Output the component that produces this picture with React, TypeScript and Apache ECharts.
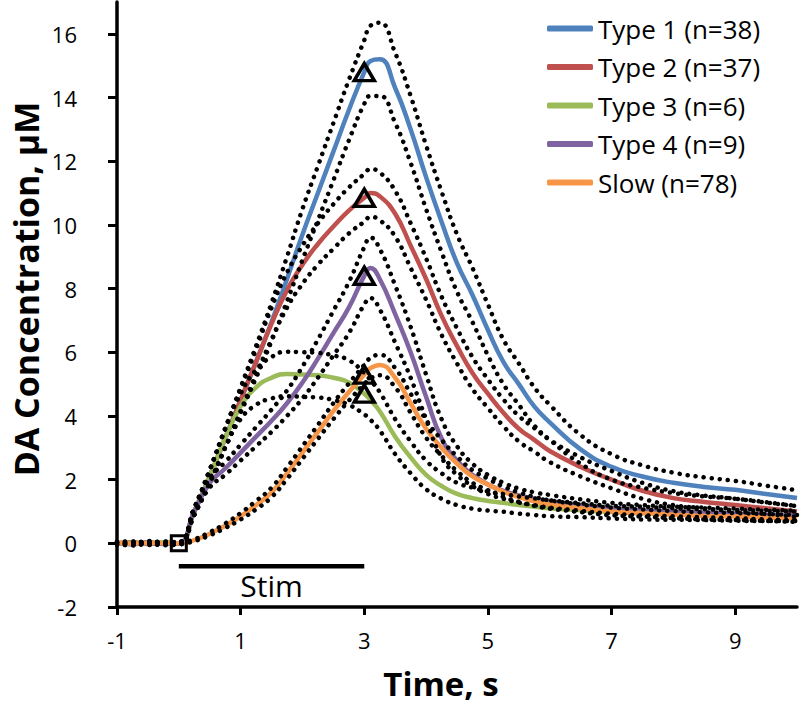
import React, { useEffect, useRef } from 'react';
import * as echarts from 'echarts';

// Time axis (s)
const time = [-1, -0.75, -0.5, -0.25, 0, 0.25, 0.5, 0.75, 1, 1.25, 1.5, 1.75, 2, 2.25, 2.5, 2.75, 3, 3.1, 3.25, 3.5, 3.75, 4, 4.25, 4.5, 4.75, 5, 5.25, 5.5, 5.75, 6, 6.5, 7, 7.5, 8, 8.5, 9, 9.5, 10];

// Mean DA concentration (uM)
const type1 = [0.02, -0.03, 0.03, -0.02, 0, 1.0, 2.1, 3.3, 4.5, 5.7, 6.95, 8.3, 9.7, 11.0, 12.3, 13.6, 14.8, 15.15, 15.2, 14.3, 13.0, 11.5, 10.1, 8.8, 7.8, 6.7, 5.7, 5.0, 4.3, 3.8, 2.95, 2.4, 2.1, 1.9, 1.77, 1.68, 1.55, 1.42];
const type2 = [0.01, 0.03, -0.02, 0.02, 0, 1.0, 2.1, 3.3, 4.5, 5.7, 6.9, 7.95, 8.75, 9.4, 9.95, 10.45, 10.85, 11.0, 10.9, 10.35, 9.35, 8.3, 7.15, 6.2, 5.35, 4.7, 4.1, 3.6, 3.25, 2.9, 2.4, 2.0, 1.65, 1.42, 1.3, 1.2, 1.1, 1.0];
const type3 = [-0.01, 0.02, 0.0, 0.03, 0, 1.0, 2.1, 3.3, 4.3, 4.9, 5.2, 5.32, 5.3, 5.28, 5.2, 5.05, 4.7, 4.5, 4.15, 3.35, 2.7, 2.15, 1.8, 1.55, 1.42, 1.33, 1.27, 1.2, 1.15, 1.1, 1.04, 0.98, 0.95, 0.92, 0.9, 0.88, 0.86, 0.85];
const type4 = [0.0, -0.02, 0.02, -0.01, 0, 1.0, 1.9, 2.35, 2.85, 3.35, 3.85, 4.4, 5.05, 5.8, 6.6, 7.4, 8.4, 8.65, 8.3, 7.2, 6.0, 4.6, 3.3, 2.6, 2.15, 1.85, 1.65, 1.5, 1.4, 1.32, 1.2, 1.1, 1.04, 1.0, 0.97, 0.94, 0.9, 0.88];
const slow = [0.01, -0.01, 0.02, 0.0, 0, 0.1, 0.3, 0.55, 0.85, 1.2, 1.6, 2.2, 2.85, 3.5, 4.15, 4.75, 5.3, 5.5, 5.6, 5.2, 4.4, 3.6, 3.0, 2.5, 2.1, 1.85, 1.62, 1.45, 1.32, 1.22, 1.1, 1.0, 0.95, 0.9, 0.86, 0.84, 0.81, 0.78];

// Mean +/- SEM (dotted)
const type1Upper = [0.05, 0.0, 0.07, 0.02, 0.04, 1.1, 2.3, 3.6, 4.9, 6.2, 7.55, 9.0, 10.5, 11.85, 13.2, 14.55, 15.8, 16.25, 16.35, 15.4, 14.05, 12.5, 11.05, 9.7, 8.65, 7.5, 6.4, 5.65, 4.9, 4.35, 3.4, 2.8, 2.45, 2.22, 2.07, 1.96, 1.81, 1.67];
const type1Lower = [-0.02, -0.07, -0.01, -0.06, -0.04, 0.9, 1.9, 3.0, 4.1, 5.2, 6.35, 7.6, 8.9, 10.15, 11.4, 12.65, 13.8, 14.05, 14.05, 13.2, 11.95, 10.5, 9.15, 7.9, 6.95, 5.9, 5.0, 4.35, 3.7, 3.25, 2.5, 2.0, 1.75, 1.58, 1.47, 1.4, 1.29, 1.17];
const type2Upper = [0.04, 0.06, 0.02, 0.05, 0.03, 1.1, 2.3, 3.6, 4.85, 6.1, 7.4, 8.5, 9.35, 10.05, 10.65, 11.17, 11.6, 11.75, 11.65, 11.07, 10.05, 8.95, 7.75, 6.75, 5.85, 5.15, 4.52, 4.0, 3.62, 3.25, 2.7, 2.27, 1.9, 1.64, 1.5, 1.4, 1.28, 1.17];
const type2Lower = [-0.03, -0.01, -0.05, -0.02, -0.03, 0.9, 1.9, 3.0, 4.15, 5.3, 6.4, 7.4, 8.15, 8.75, 9.25, 9.73, 10.1, 10.25, 10.15, 9.63, 8.65, 7.65, 6.55, 5.65, 4.85, 4.25, 3.68, 3.2, 2.88, 2.55, 2.1, 1.73, 1.4, 1.2, 1.1, 1.0, 0.92, 0.83];
const type3Upper = [0.02, 0.05, 0.03, 0.06, 0.03, 1.1, 2.3, 3.6, 4.7, 5.45, 5.85, 6.02, 6.0, 5.98, 5.9, 5.75, 5.35, 5.12, 4.75, 3.9, 3.2, 2.6, 2.2, 1.9, 1.75, 1.63, 1.55, 1.47, 1.41, 1.35, 1.26, 1.18, 1.15, 1.1, 1.07, 1.05, 1.02, 1.0];
const type3Lower = [-0.04, -0.01, -0.03, 0.0, -0.03, 0.9, 1.9, 3.0, 3.9, 4.35, 4.55, 4.62, 4.6, 4.58, 4.5, 4.35, 4.05, 3.88, 3.55, 2.8, 2.2, 1.7, 1.4, 1.2, 1.09, 1.03, 0.99, 0.93, 0.89, 0.85, 0.82, 0.78, 0.75, 0.74, 0.73, 0.71, 0.7, 0.7];
const type4Upper = [0.03, 0.02, 0.05, 0.02, 0.03, 1.1, 2.05, 2.55, 3.1, 3.65, 4.2, 4.8, 5.55, 6.4, 7.3, 8.2, 9.3, 9.6, 9.25, 8.1, 6.8, 5.3, 3.9, 3.05, 2.5, 2.15, 1.9, 1.72, 1.6, 1.52, 1.38, 1.27, 1.2, 1.15, 1.12, 1.09, 1.05, 1.03];
const type4Lower = [-0.03, -0.05, -0.01, -0.04, -0.03, 0.9, 1.75, 2.15, 2.6, 3.05, 3.5, 4.0, 4.55, 5.2, 5.9, 6.6, 7.5, 7.7, 7.35, 6.3, 5.2, 3.9, 2.7, 2.15, 1.8, 1.55, 1.4, 1.28, 1.2, 1.12, 1.02, 0.93, 0.88, 0.85, 0.82, 0.79, 0.75, 0.73];
const slowUpper = [0.03, 0.01, 0.04, 0.02, 0.02, 0.13, 0.35, 0.62, 0.95, 1.33, 1.75, 2.38, 3.05, 3.72, 4.4, 5.02, 5.6, 5.82, 5.92, 5.5, 4.7, 3.88, 3.25, 2.73, 2.3, 2.03, 1.78, 1.6, 1.46, 1.35, 1.22, 1.12, 1.06, 1.01, 0.97, 0.95, 0.92, 0.89];
const slowLower = [-0.01, -0.03, 0.0, -0.02, -0.02, 0.07, 0.25, 0.48, 0.75, 1.07, 1.45, 2.02, 2.65, 3.28, 3.9, 4.48, 5.0, 5.18, 5.28, 4.9, 4.1, 3.32, 2.75, 2.27, 1.9, 1.67, 1.46, 1.3, 1.18, 1.09, 0.98, 0.88, 0.84, 0.79, 0.75, 0.73, 0.7, 0.67];

const seriesNames = ['Type 1 (n=38)', 'Type 2 (n=37)', 'Type 3 (n=6)', 'Type 4 (n=9)', 'Slow (n=78)'];
const seriesColors = ['#4F81BD', '#C0504D', '#9BBB59', '#8064A2', '#F79646'];
const means = [type1, type2, type3, type4, slow];
const uppers = [type1Upper, type2Upper, type3Upper, type4Upper, slowUpper];
const lowers = [type1Lower, type2Lower, type3Lower, type4Lower, slowLower];

// Markers: stimulus onset (square) and end-of-stim values (triangles)
const onsetTime = [0];
const onsetValue = [0];
const stimEndTime = [3, 3, 3, 3, 3];
const stimEndValue = [14.8, 10.85, 8.4, 5.3, 4.7];

// Stimulation bar
const stimTimes = [0, 3];
const stimLevel = -0.72;
const stimLabelTime = 1.5;
const stimLabelLevel = -1.34;

const xTickValues = [-1, 1, 3, 5, 7, 9];
const yTickValues = [-2, 0, 2, 4, 6, 8, 10, 12, 14, 16];
const xTitle = 'Time, s';
const yTitle = 'DA Concentration, μM';
const FONT = '"Open Sans", "Noto Sans", sans-serif';

function pairs(ys: number[]) {
  return time.map((t, i) => [t, ys[i]]);
}

export default function App() {
  const ref = useRef<HTMLDivElement>(null);
  useEffect(() => {
    if (!ref.current) return;
    const chart = echarts.init(ref.current, undefined, { renderer: 'svg' });
    const series: any[] = [];
    means.forEach((m, i) => {
      series.push({
        name: seriesNames[i],
        type: 'line',
        data: pairs(m),
        showSymbol: false,
        smooth: 0.5,
        lineStyle: { color: seriesColors[i], width: 4.5 },
        itemStyle: { color: seriesColors[i] },
        z: 2,
      });
    });
    [...uppers, ...lowers].forEach((b, i) => {
      series.push({
        name: 'sem' + i,
        type: 'line',
        data: pairs(b),
        showSymbol: false,
        smooth: 0.5,
        lineStyle: { color: '#000', width: 4.5, type: [0.1, 8], cap: 'round' },
        z: 3,
      });
    });
    series.push({
      name: 'stim',
      type: 'line',
      data: stimTimes.map((t) => [t, stimLevel]),
      showSymbol: false,
      lineStyle: { color: '#000', width: 4.5 },
      z: 3,
    });
    series.push({
      name: 'stimLabel',
      type: 'scatter',
      data: [[stimLabelTime, stimLabelLevel]],
      symbolSize: 0,
      itemStyle: { color: '#000', opacity: 1 },
      label: {
        show: true,
        position: 'inside',
        formatter: 'Stim',
        fontFamily: FONT,
        fontSize: 30,
        color: '#000',
        textBorderWidth: 0,
      },
      z: 4,
    });
    series.push({
      name: 'onset',
      type: 'scatter',
      data: onsetTime.map((t, i) => [t, onsetValue[i]]),
      symbol: 'rect',
      symbolSize: 15,
      itemStyle: { color: 'rgba(0,0,0,0)', borderColor: '#000', borderWidth: 3, opacity: 1 },
      z: 5,
    });
    series.push({
      name: 'stimEnd',
      type: 'scatter',
      data: stimEndTime.map((t, i) => [t, stimEndValue[i]]),
      symbol: 'triangle',
      symbolSize: [20, 17],
      itemStyle: { color: 'rgba(0,0,0,0)', borderColor: '#000', borderWidth: 3.5, opacity: 1 },
      z: 5,
    });

    chart.setOption({
      animation: false,
      backgroundColor: '#fff',
      grid: { left: 117, right: 3, top: 2, bottom: 97, containLabel: false, outerBoundsMode: 'none' },
      legend: {
        data: seriesNames,
        orient: 'vertical',
        left: 547,
        top: 15,
        padding: 0,
        icon: 'roundRect',
        itemWidth: 46,
        itemHeight: 6,
        itemGap: 11.5,
        textStyle: { fontFamily: FONT, fontSize: 26, color: '#000', lineHeight: 27 },
      },
      graphic: [
        {
          type: 'text',
          x: 26,
          y: 289,
          rotation: Math.PI / 2,
          style: {
            text: yTitle,
            fontFamily: FONT,
            fontSize: 34,
            fontWeight: 'bold',
            fill: '#000',
            align: 'center',
            verticalAlign: 'middle',
            lineHeight: 36,
          },
        },
        {
          type: 'text',
          x: 441,
          y: 683,
          style: {
            text: xTitle,
            fontFamily: FONT,
            fontSize: 33,
            fontWeight: 'bold',
            fill: '#000',
            align: 'center',
            verticalAlign: 'middle',
            lineHeight: 34,
          },
        },
      ],
      xAxis: {
        type: 'value',
        min: -1,
        max: 10,
        axisLine: { show: true, onZero: false, lineStyle: { color: '#000', width: 3.5 } },
        axisTick: { show: true, customValues: xTickValues, length: 8, lineStyle: { color: '#000', width: 3 } },
        axisLabel: { customValues: xTickValues, margin: 22, fontFamily: FONT, fontSize: 22, color: '#000' },
        splitLine: { show: false },
      },
      yAxis: {
        type: 'value',
        min: -2,
        max: 17,
        interval: 2,
        axisLine: { show: true, onZero: false, lineStyle: { color: '#000', width: 3.5 } },
        axisTick: { show: true, customValues: yTickValues, length: 9, lineStyle: { color: '#000', width: 3 } },
        axisLabel: { customValues: yTickValues, margin: 40, fontFamily: FONT, fontSize: 22, color: '#000' },
        splitLine: { show: false },
      },
      series,
    });
    return () => chart.dispose();
  }, []);
  return <div ref={ref} style={{ position: 'fixed', left: 0, top: 0, width: 800, height: 704 }} />;
}
